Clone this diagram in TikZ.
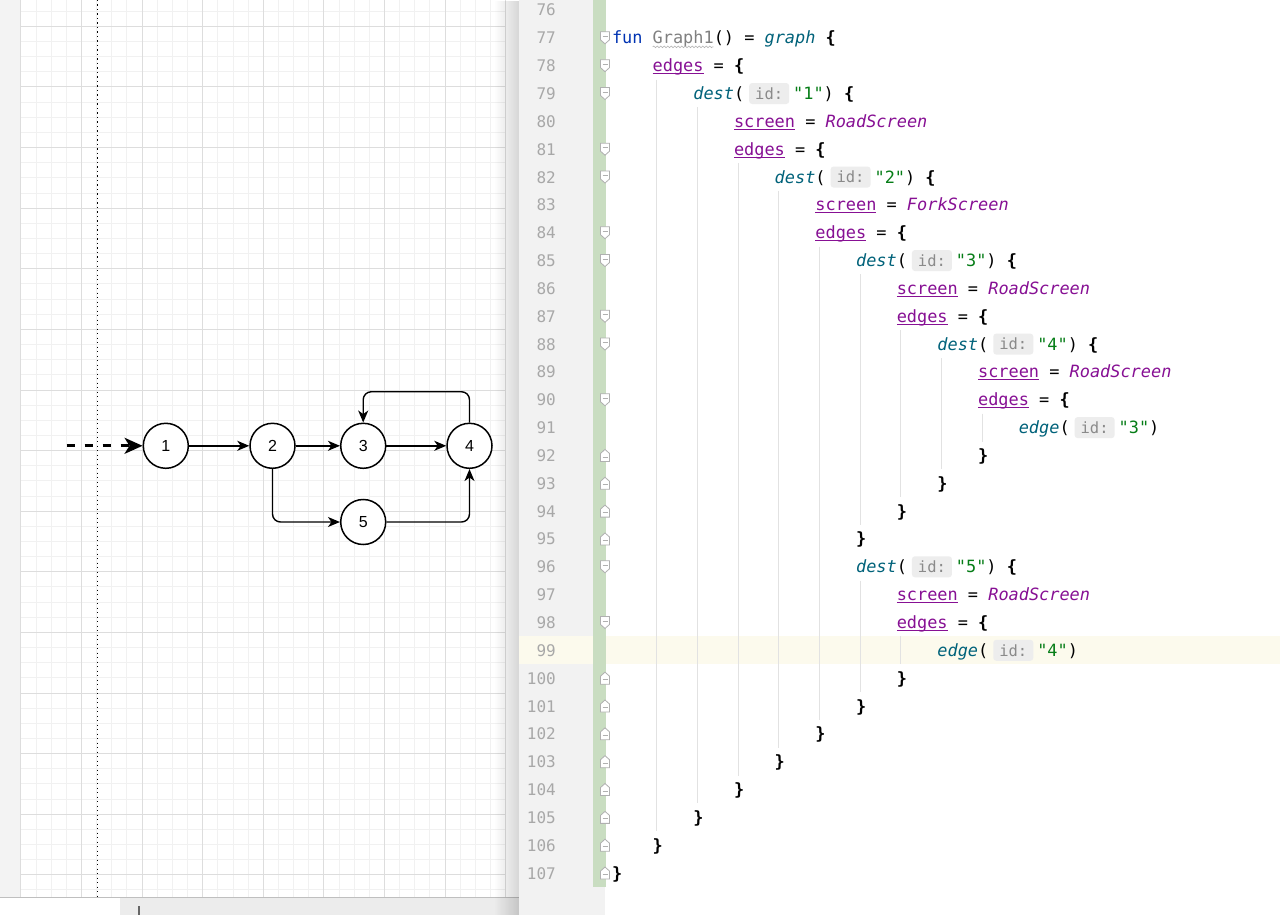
\documentclass[tikz,border=0pt]{standalone}
\usepackage{fontspec}
\setmainfont{Liberation Sans}
\newfontfamily\codefont{DejaVu Sans Mono}
\usetikzlibrary{arrows.meta,fadings,decorations.pathmorphing}

\definecolor{kw}{HTML}{0033B3}
\definecolor{fnc}{HTML}{00627A}
\definecolor{prp}{HTML}{871094}
\definecolor{strc}{HTML}{067D17}
\definecolor{unused}{HTML}{808080}
\definecolor{lnum}{HTML}{A8A8A8}
\definecolor{gutterbg}{HTML}{F2F2F2}
\definecolor{greenbar}{HTML}{C9DDC1}
\definecolor{hilite}{HTML}{FCFAED}
\definecolor{guidec}{HTML}{E2E2E2}
\definecolor{inlaybg}{HTML}{EDEDED}
\definecolor{inlayfg}{HTML}{8A8A8A}
\definecolor{gridminor}{HTML}{F1F1F1}
\definecolor{gridmajor}{HTML}{DDDDDD}
\definecolor{leftstrip}{HTML}{F3F3F3}
\definecolor{barbg}{HTML}{ECECEC}
\definecolor{foldc}{HTML}{B0B0B0}

\newcommand\cx[1]{612+(#1)*10.17}
\newcommand\cbase[1]{16+27.84*(#1-76)}
\newcommand\cmid[1]{10+27.84*(#1-76)}

\tikzset{
  codestyle/.style={anchor=base west, inner sep=0pt, outer sep=0pt, text=black,
    font=\codefont\fontsize{16.9}{20}\selectfont},
  lnumstyle/.style={anchor=base east, inner sep=0pt, text=lnum,
    font=\codefont\fontsize{16}{20}\selectfont},
  inlaystyle/.style={anchor=center, fill=inlaybg, rounded corners=3pt, minimum width=40pt,
    minimum height=21pt, inner sep=0pt, text=inlayfg, font=\codefont\fontsize{15.5}{18}\selectfont},
  ulstyle/.style={prp, line width=1.1pt},
  guidestyle/.style={guidec, line width=1pt},
  foldst/.style={draw=foldc, fill=white, line width=0.8pt},
  gnode/.style={circle, draw, line width=1.5pt, minimum size=45pt, inner sep=0pt, fill=white,
    font=\fontsize{16}{19}\selectfont},
  gedge/.style={line width=1.4pt, -{Stealth[length=12pt,width=10pt,inset=3.5pt]}},
}

\newcommand\codeln[4]{\node[codestyle] (#1) at ({\cx{#3}},{\cbase{#2}}) {#4};}
\newcommand\codeul[3]{\draw[ulstyle] ({\cx{#2}},{\cbase{#1}+2}) -- ++({#3*10.17},0);}
\newcommand\destln[5]{%
  \node[codestyle] (d#1) at ({\cx{#2}},{\cbase{#1}}) {{\color{fnc}\itshape #3}(};
  \node[inlaystyle] (h#1) at ({\cx{#2+5}+25},{\cmid{#1}}) {id:};
  \node[codestyle] (t#1) at ({\cx{#2+5}+49},{\cbase{#1}}) {{\color{strc}"#4"})#5};}
\newcommand\foldopen[1]{%
  \begin{scope}[shift={(605,{\cmid{#1}})}]
    \draw[foldst] (-4.5,-6) -- (4.5,-6) -- (4.5,2) -- (0,6) -- (-4.5,2) -- cycle;
    \draw[foldc, line width=0.8pt] (-2.5,-1.5) -- (2.5,-1.5);
  \end{scope}}
\newcommand\foldclose[1]{%
  \begin{scope}[shift={(605,{\cmid{#1}})}]
    \draw[foldst] (-4.5,6) -- (4.5,6) -- (4.5,-2) -- (0,-6) -- (-4.5,-2) -- cycle;
    \draw[foldc, line width=0.8pt] (-2.5,1.5) -- (2.5,1.5);
  \end{scope}}
\newcommand\iguide[3]{\draw[guidestyle] ({\cx{#1}+4},{\cmid{#2}-13.92}) -- ({\cx{#1}+4},{\cmid{#3}+13.92});}

\begin{document}
\begin{tikzpicture}[x=1pt,y=-1pt]
\useasboundingbox (0,0) rectangle (1280,915);
% ---------- left canvas ----------
\fill[white] (0,0) rectangle (519,915);
\fill[leftstrip] (0,0) rectangle (20.5,897);
\foreach \k in {0,...,32} {\draw[gridminor, line width=1pt] ({20.9+15.15*\k},0) -- ({20.9+15.15*\k},897);}
\foreach \k in {0,...,58} {\draw[gridminor, line width=1pt] (20.9,{11.25+15.15*\k}) -- (505,{11.25+15.15*\k});}
\foreach \k in {0,4,...,32} {\draw[gridmajor, line width=1pt] ({20.9+15.15*\k},0) -- ({20.9+15.15*\k},897);}
\foreach \k in {1,5,...,57} {\draw[gridmajor, line width=1pt] (20.9,{11.25+15.15*\k}) -- (505,{11.25+15.15*\k});}
\draw[black, line width=1.3pt, dash pattern=on 1.3pt off 3.2pt] (97.6,0) -- (97.6,897);
% bottom bar
\fill[white] (0,897) rectangle (120,915);
\fill[barbg] (120,897) rectangle (519,915);
\draw[black!25, line width=0.8pt] (0,897) -- (519,897);
\draw[black!60, line width=1.2pt] (139,906) -- (139,915);
% graph
\node[gnode] (n1) at (165.8,445.8) {1};
\node[gnode] (n2) at (272.5,445.8) {2};
\node[gnode] (n3) at (363.2,445.8) {3};
\node[gnode] (n4) at (469.5,445.8) {4};
\node[gnode] (n5) at (363.2,522) {5};
\coordinate (start) at (66.7,445.8);
\draw[line width=2.8pt, dash pattern=on 8pt off 10pt, -{Stealth[length=18pt,width=16pt,inset=5pt]}] (start) -- (n1.west);
\draw[gedge] (n1) -- (n2);
\draw[gedge] (n2) -- (n3);
\draw[gedge] (n3) -- (n4);
\draw[gedge, rounded corners=8pt] (n4.north) -- ++(0,-30.8) -| (n3.north);
\draw[gedge, rounded corners=8pt] (n2.south) |- (n5.west);
\draw[gedge, rounded corners=8pt] (n5.east) -| (n4.south);
% shadow
\fill[black, opacity=0.16, path fading=west] (494,0) rectangle (519,915);
% ---------- code panel ----------
\fill[white] (519,0) rectangle (1280,915);
\fill[gutterbg] (519,0) rectangle (605,915);
\fill[hilite] (519,{\cmid{99}-13.92}) rectangle (1280,{\cmid{99}+13.92});
\fill[greenbar] (593,0) rectangle (605.5,887);
% line numbers
\foreach \n in {76,...,107} {\node[lnumstyle] (ln\n) at (556,{\cbase{\n}}) {\n};}
% fold markers
\foreach \n in {77,78,79,81,82,84,85,87,88,90,96,98} {\foldopen{\n}}
\foreach \n in {92,93,94,95,100,101,102,103,104,105,106,107} {\foldclose{\n}}
% indent guides
\iguide{4}{79}{105}
\iguide{8}{80}{104}
\iguide{12}{82}{103}
\iguide{16}{83}{102}
\iguide{20}{85}{101}
\iguide{24}{86}{94}
\iguide{28}{88}{93}
\iguide{32}{89}{92}
\iguide{36}{91}{91}
\iguide{24}{97}{100}
\iguide{28}{99}{99}
% code text
\codeln{c77}{77}{0}{{\color{kw}fun} {\color{unused}Graph1}() = {\color{fnc}\itshape graph} {\bfseries\{}}
\draw[black!30, line width=0.6pt, decorate, decoration={snake, amplitude=0.8pt, segment length=3.5pt}] ({\cx{4}},{\cbase{77}+3}) -- ({\cx{10}},{\cbase{77}+3});
\codeln{c78}{78}{4}{{\color{prp}edges} = {\bfseries\{}}\codeul{78}{4}{5}
\destln{79}{8}{dest}{1}{\ {\bfseries\{}}
\codeln{c80}{80}{12}{{\color{prp}screen} = {\color{prp}\itshape RoadScreen}}\codeul{80}{12}{6}
\codeln{c81}{81}{12}{{\color{prp}edges} = {\bfseries\{}}\codeul{81}{12}{5}
\destln{82}{16}{dest}{2}{\ {\bfseries\{}}
\codeln{c83}{83}{20}{{\color{prp}screen} = {\color{prp}\itshape ForkScreen}}\codeul{83}{20}{6}
\codeln{c84}{84}{20}{{\color{prp}edges} = {\bfseries\{}}\codeul{84}{20}{5}
\destln{85}{24}{dest}{3}{\ {\bfseries\{}}
\codeln{c86}{86}{28}{{\color{prp}screen} = {\color{prp}\itshape RoadScreen}}\codeul{86}{28}{6}
\codeln{c87}{87}{28}{{\color{prp}edges} = {\bfseries\{}}\codeul{87}{28}{5}
\destln{88}{32}{dest}{4}{\ {\bfseries\{}}
\codeln{c89}{89}{36}{{\color{prp}screen} = {\color{prp}\itshape RoadScreen}}\codeul{89}{36}{6}
\codeln{c90}{90}{36}{{\color{prp}edges} = {\bfseries\{}}\codeul{90}{36}{5}
\destln{91}{40}{edge}{3}{}
\codeln{c92}{92}{36}{{\bfseries\}}}
\codeln{c93}{93}{32}{{\bfseries\}}}
\codeln{c94}{94}{28}{{\bfseries\}}}
\codeln{c95}{95}{24}{{\bfseries\}}}
\destln{96}{24}{dest}{5}{\ {\bfseries\{}}
\codeln{c97}{97}{28}{{\color{prp}screen} = {\color{prp}\itshape RoadScreen}}\codeul{97}{28}{6}
\codeln{c98}{98}{28}{{\color{prp}edges} = {\bfseries\{}}\codeul{98}{28}{5}
\destln{99}{32}{edge}{4}{}
\codeln{c100}{100}{28}{{\bfseries\}}}
\codeln{c101}{101}{24}{{\bfseries\}}}
\codeln{c102}{102}{20}{{\bfseries\}}}
\codeln{c103}{103}{16}{{\bfseries\}}}
\codeln{c104}{104}{12}{{\bfseries\}}}
\codeln{c105}{105}{8}{{\bfseries\}}}
\codeln{c106}{106}{4}{{\bfseries\}}}
\codeln{c107}{107}{0}{{\bfseries\}}}
\end{tikzpicture}
\end{document}
